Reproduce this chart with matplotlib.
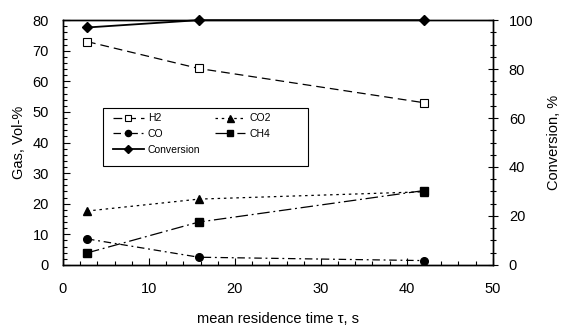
import matplotlib
matplotlib.use("Agg")
import matplotlib.pyplot as plt
from matplotlib.ticker import MultipleLocator
from matplotlib.patches import Rectangle

plt.rcParams['font.family'] = ['Liberation Sans', 'DejaVu Sans']

tau = [2.8, 15.8, 42.0]
h2 = [73.0, 64.2, 53.0]
co2 = [17.6, 21.5, 23.9]
co = [8.5, 2.5, 1.4]
ch4 = [3.9, 14.0, 24.3]
conversion = [97.0, 100.0, 100.0]

fig = plt.figure(figsize=(5.62, 3.25), dpi=100)
ax = fig.add_axes([0.112, 0.185, 0.765, 0.753])
ax2 = ax.twinx()

lw = 0.9
l1, = ax.plot(tau, h2, color='black', lw=lw, dashes=(7, 4), marker='s', ms=5.5,
              mfc='white', mec='black', mew=0.8, label='H2')
l2, = ax.plot(tau, co2, color='black', lw=lw, dashes=(2, 3), marker='^', ms=6.3,
              mfc='black', mec='black', label='CO2')
l3, = ax.plot(tau, co, color='black', lw=lw, dashes=(6, 3, 1.5, 3), marker='o', ms=5.5,
              mfc='black', mec='black', label='CO')
l4, = ax.plot(tau, ch4, color='black', lw=lw, dashes=(10, 3, 1.5, 3), marker='s', ms=5.5,
              mfc='black', mec='black', label='CH4', zorder=3)
l5, = ax2.plot(tau, conversion, color='black', lw=1.3, marker='D', ms=4.8,
               mfc='black', mec='black', label='Conversion', clip_on=False)

ax.set_xlim(0, 50)
ax.set_ylim(0, 80)
ax2.set_ylim(0, 100)

ax.xaxis.set_major_locator(MultipleLocator(10))
ax.xaxis.set_minor_locator(MultipleLocator(2))
ax.yaxis.set_major_locator(MultipleLocator(10))
ax.yaxis.set_minor_locator(MultipleLocator(2))
ax2.yaxis.set_major_locator(MultipleLocator(20))
ax2.yaxis.set_minor_locator(MultipleLocator(5))

ax.tick_params(axis='x', which='major', direction='in', length=5, width=0.8, labelsize=10.5, pad=12, top=False)
ax.tick_params(axis='x', which='minor', direction='in', length=3, width=0.8, top=False)
ax.tick_params(axis='y', which='major', direction='in', length=5, width=0.8, labelsize=10.5, pad=10, right=False)
ax.tick_params(axis='y', which='minor', direction='in', length=3, width=0.8, right=False)
ax2.tick_params(axis='y', which='major', direction='inout', length=7, width=0.8, labelsize=10.5, pad=8)
ax2.tick_params(axis='y', which='minor', direction='inout', length=5, width=0.8)

for a in (ax, ax2):
    for s in a.spines.values():
        s.set_linewidth(1.0)

ax.set_xlabel('mean residence time τ, s', fontsize=10.5, labelpad=12)
ax.set_ylabel('Gas, Vol-%', fontsize=10.5, labelpad=5)
ax2.set_ylabel('Conversion, %', fontsize=10.5, labelpad=10)

leg = ax.legend(handles=[l1, l3, l5, l2, l4], ncol=2, fontsize=7.5,
                loc='upper left', bbox_to_anchor=(0.093, 0.662),
                frameon=False, handlelength=2.9, columnspacing=1.4,
                borderpad=0.5, labelspacing=0.55, handletextpad=0.4,
                markerscale=0.8)
leg.set_zorder(6)
box = Rectangle((0.093, 0.404), 0.477, 0.237, transform=ax.transAxes,
                facecolor='white', edgecolor='black', lw=0.8, zorder=5)
ax.add_patch(box)

fig.savefig('out.png', dpi=100)
